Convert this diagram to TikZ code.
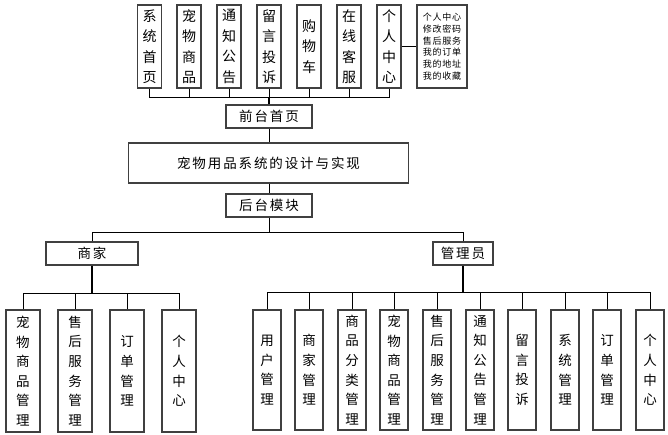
\documentclass[tikz,border=0pt]{standalone}
\usepackage{fontspec}
\setmainfont{Noto Sans CJK SC}
\newfontfamily\cjksp[LetterSpace=14]{Noto Sans CJK SC}
\newfontfamily\cjksmall[LetterSpace=8]{Noto Sans CJK SC}
\begin{document}
\begin{tikzpicture}[x=1pt,y=-1pt,
  box/.style={draw=black!75,line width=1.3pt,fill=white,inner sep=0pt,align=center},
  topbox/.style={box,minimum width=24pt,minimum height=83pt,font=\fontsize{14}{20.5}\selectfont},
  hbox/.style={box,font=\cjksp\fontsize{13.5}{16}\selectfont},
  lbox/.style={box,minimum width=34pt,minimum height=122pt,font=\fontsize{13.5}{19.6}\selectfont},
  abox/.style={box,minimum width=28pt,minimum height=120pt,font=\fontsize{13.5}{19.6}\selectfont},
  link/.style={draw=black,line width=1pt},
  main/.style={draw=black,line width=1.8pt}]
\useasboundingbox (0,0) rectangle (668,434);
% top row
\node[topbox] (t1) at (149.5,46.5) {系\\统\\首\\页};
\node[topbox] (t2) at (189,46.5) {宠\\物\\商\\品};
\node[topbox] (t3) at (229,46.5) {通\\知\\公\\告};
\node[topbox] (t4) at (269,46.5) {留\\言\\投\\诉};
\node[topbox] (t5) at (309,46.5) {购\\物\\车};
\node[topbox] (t6) at (349,46.5) {在\\线\\客\\服};
\node[topbox] (t7) at (389,46.5) {个\\人\\中\\心};
\node[box,minimum width=50pt,minimum height=83pt,font=\cjksmall\fontsize{9}{11.8}\selectfont] (t8) at (442,46.5)
  {个人中心\\修改密码\\售后服务\\我的订单\\我的地址\\我的收藏};
% middle
\node[hbox,minimum width=86pt,minimum height=23pt] (fh) at (269,116.5) {前台首页};
\node[hbox,minimum width=280pt,minimum height=40pt] (title) at (268.5,163) {宠物用品系统的设计与实现};
\node[hbox,minimum width=86pt,minimum height=23pt] (hm) at (269,205.5) {后台模块};
\node[hbox,minimum width=92pt,minimum height=23pt] (sj) at (92,253.5) {商家};
\node[hbox,minimum width=60pt,minimum height=23pt] (gly) at (463,253.5) {管理员};
% merchant children
\node[lbox] (s1) at (23,371) {宠\\物\\商\\品\\管\\理};
\node[lbox] (s2) at (75,371) {售\\后\\服\\务\\管\\理};
\node[lbox] (s3) at (127,371) {订\\单\\管\\理};
\node[lbox] (s4) at (179,371) {个\\人\\中\\心};
% admin children
\node[abox] (a1) at (267,370) {用\\户\\管\\理};
\node[abox] (a2) at (309,370) {商\\家\\管\\理};
\node[abox] (a3) at (352,370) {商\\品\\分\\类\\管\\理};
\node[abox] (a4) at (394,370) {宠\\物\\商\\品\\管\\理};
\node[abox] (a5) at (437,370) {售\\后\\服\\务\\管\\理};
\node[abox] (a6) at (480,370) {通\\知\\公\\告\\管\\理};
\node[abox] (a7) at (522,370) {留\\言\\投\\诉};
\node[abox] (a8) at (565,370) {系\\统\\管\\理};
\node[abox] (a9) at (607,370) {订\\单\\管\\理};
\node[abox] (a10) at (650,370) {个\\人\\中\\心};
% connectors
\coordinate (bt) at (269,97);
\foreach \n in {t1,t2,t3,t4,t5,t6,t7} {\draw[link] (\n.south) |- (bt);}
\draw[main] (fh.north) -- (bt);
\draw[link] (t7.east) -- (t8.west);
\draw[link] (fh.south) -- (fh.south |- title.north);
\draw[link] (title.south -| hm.north) -- (hm.north);
\coordinate (bh) at (269,232);
\draw[link] (hm.south) -- (bh);
\draw[link] (sj.north) |- (bh);
\draw[link] (gly.north) |- (bh);
\coordinate (bs) at (92,293);
\draw[main] (sj.south) -- (bs);
\foreach \n in {s1,s2,s3,s4} {\draw[link] (\n.north) |- (bs);}
\coordinate (ba) at (463,292);
\draw[main] (gly.south) -- (ba);
\foreach \n in {a1,a2,a3,a4,a5,a6,a7,a8,a9,a10} {\draw[link] (\n.north) |- (ba);}
\end{tikzpicture}
\end{document}
